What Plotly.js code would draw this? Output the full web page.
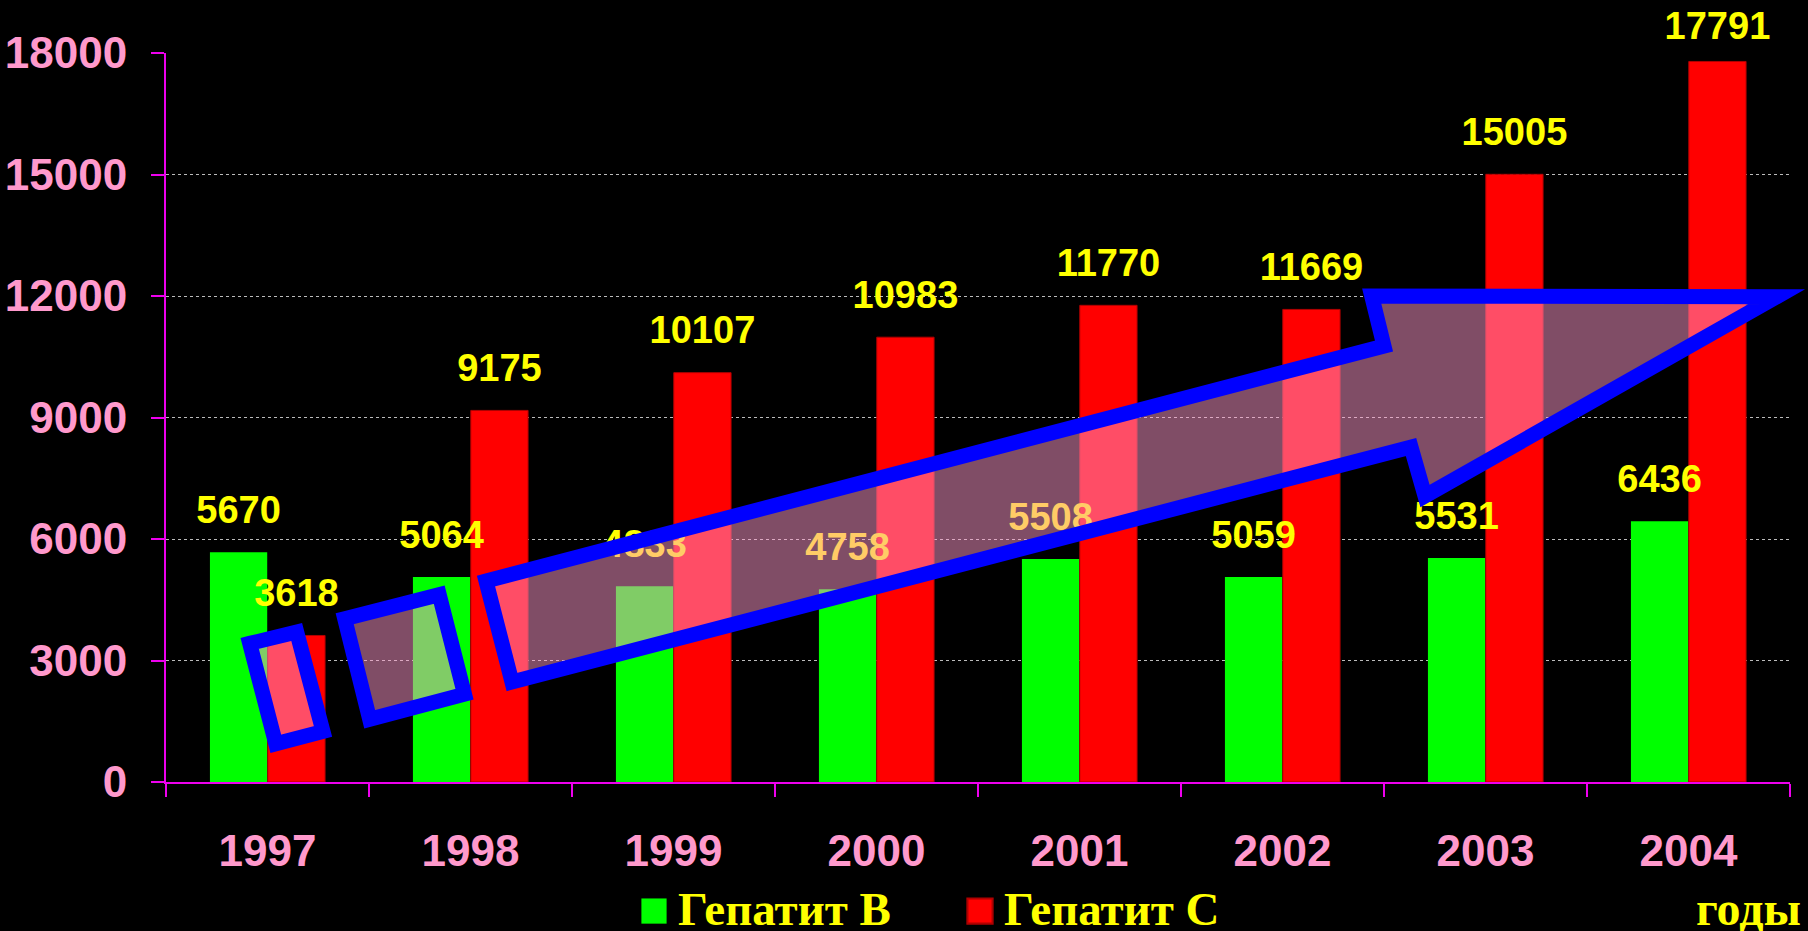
<!DOCTYPE html>
<html>
<head>
<meta charset="utf-8">
<script src="https://cdn.plot.ly/plotly-3.0.1.min.js"></script>
<style>
  html, body { margin: 0; padding: 0; background: #000; }
  #chart { width: 1808px; height: 931px; }
</style>
</head>
<body>
<div id="chart"></div>
<script>
// ---- data ----
const years = ['1997', '1998', '1999', '2000', '2001', '2002', '2003', '2004'];
const hepatitisB = [5670, 5064, 4833, 4758, 5508, 5059, 5531, 6436];
const hepatitisC = [3618, 9175, 10107, 10983, 11770, 11669, 15005, 17791];
const seriesNames = ['Гепатит В', 'Гепатит С'];
const yTicks = [0, 3000, 6000, 9000, 12000, 15000, 18000];
const axisNote = 'годы';

// ---- style ----
const pink = '#ff99cc';
const magenta = '#ee00ee';
const yellow = '#ffff00';
const sans = 'Liberation Sans, Arial, sans-serif';
const serif = 'Liberation Serif, Times New Roman, serif';
const yMax = 18000;

// plot-area geometry (pixels) used only to place the decorative arrows
const L = 166, R = 1790, T = 53, B = 782;
const px = x => (x - L) / (R - L);
const py = y => (B - y) / (B - T);
function pathFrom(points) {
  return points.map((p, i) => (i ? 'L' : 'M') + px(p[0]).toFixed(5) + ',' + py(p[1]).toFixed(5)).join(' ') + ' Z';
}
// decorative arrow outlines (pixel positions on the slide)
const arrow1 = [[249.7, 643.4], [296.7, 632], [323, 731.4], [275.8, 743.8]];
const arrow2 = [[344.7, 618.7], [439.2, 594.7], [464.5, 694.2], [369.7, 719.2]];
const arrow3 = [[486, 581], [1384, 346], [1371.7, 296], [1776.7, 296.8], [1425, 496], [1411, 447], [512, 682]];
const arrowStyle = {
  type: 'path', xref: 'paper', yref: 'paper', layer: 'above',
  fillcolor: 'rgba(255,153,204,0.5)',
  line: { color: '#0000ff', width: 15 }
};

const labelFont = { family: sans, size: 38, color: yellow, weight: 'bold' };
// gap between a value label and its bar (labels near the top sit a little closer)
const labelGap = v => (v > 0.95 * yMax ? 19 : 30);

const traces = [
  {
    type: 'bar', name: seriesNames[0], x: years, y: hepatitisB,
    offsetgroup: 'B',
    marker: { color: '#00ff00' },
    hoverinfo: 'x+y'
  },
  {
    type: 'bar', name: seriesNames[1], x: years, y: hepatitisC,
    offsetgroup: 'C',
    marker: { color: '#ff0000', line: { color: '#b00000', width: 1 } },
    hoverinfo: 'x+y'
  },
  {
    type: 'scatter', mode: 'markers+text', x: years, y: hepatitisB,
    offsetgroup: 'B', showlegend: false, hoverinfo: 'skip',
    text: hepatitisB.map(String), textposition: 'top center',
    marker: { size: hepatitisB.map(labelGap), opacity: 0 },
    textfont: labelFont,
    cliponaxis: false
  },
  {
    type: 'scatter', mode: 'markers+text', x: years, y: hepatitisC,
    offsetgroup: 'C', showlegend: false, hoverinfo: 'skip',
    text: hepatitisC.map(String), textposition: 'top center',
    marker: { size: hepatitisC.map(labelGap), opacity: 0 },
    textfont: labelFont,
    cliponaxis: false
  }
];

const layout = {
  width: 1808, height: 931,
  paper_bgcolor: '#000000', plot_bgcolor: '#000000',
  margin: { l: L, r: 1808 - R, t: T, b: 931 - B, autoexpand: false },
  barmode: 'group', bargap: 0.43, bargroupgap: 0.01,
  scattermode: 'group', scattergap: 0.43,
  xaxis: {
    type: 'category', tickson: 'boundaries', automargin: false,
    showline: true, linecolor: magenta, linewidth: 2,
    ticks: 'outside', ticklen: 13, tickwidth: 2, tickcolor: magenta,
    showgrid: false, zeroline: false,
    tickfont: { family: sans, size: 44, color: pink, weight: 'bold' },
    ticklabelstandoff: 29
  },
  yaxis: {
    range: [0, yMax], tickvals: yTicks, ticktext: yTicks.map(String), automargin: false,
    showline: true, linecolor: magenta, linewidth: 2,
    ticks: 'outside', ticklen: 13, tickwidth: 2, tickcolor: magenta,
    showgrid: true, gridcolor: '#bbbbbb', gridwidth: 1, griddash: 'dot',
    zeroline: false,
    tickfont: { family: sans, size: 44, color: pink, weight: 'bold' },
    ticklabelstandoff: 15
  },
  showlegend: true,
  legend: {
    orientation: 'h', x: px(630), xanchor: 'left', y: py(945), yanchor: 'bottom',
    bgcolor: 'rgba(0,0,0,0)', traceorder: 'normal',
    itemwidth: 38,
    entrywidth: 273, entrywidthmode: 'pixels',
    font: { family: serif, size: 47, color: yellow, weight: 'bold' }
  },
  annotations: [
    {
      text: axisNote, xref: 'paper', yref: 'paper', x: px(1803), xanchor: 'right',
      y: py(937), yanchor: 'bottom', showarrow: false,
      font: { family: serif, size: 48, color: yellow, weight: 'bold' }
    }
  ],
  shapes: [arrow1, arrow2, arrow3].map(pts => Object.assign({}, arrowStyle, { path: pathFrom(pts) }))
};

Plotly.newPlot('chart', traces, layout, { displayModeBar: false, staticPlot: true }).then(gd => {
  // enlarge the legend colour squares to match the slide
  gd.querySelectorAll('.legend .legendpoints path').forEach(p => {
    const t = p.getAttribute('transform') || '';
    p.setAttribute('transform', t + ' translate(0,4) scale(2.1)');
  });
});
</script>
</body>
</html>
